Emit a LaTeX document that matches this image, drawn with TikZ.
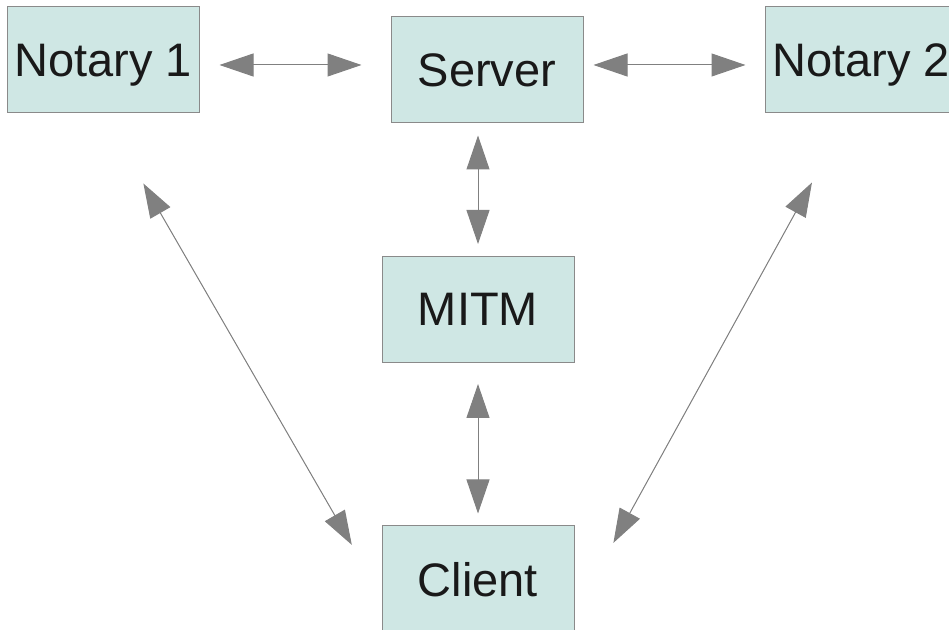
\documentclass[tikz,border=0pt]{standalone}
\usepackage{fontspec}
\setmainfont{Liberation Sans}
\usepackage{tikz}
\usetikzlibrary{arrows.meta}
\definecolor{boxfill}{RGB}{207,231,228}
\definecolor{boxline}{RGB}{138,138,138}
\definecolor{linkgray}{RGB}{128,128,128}
\tikzset{
  box/.style={draw=boxline, line width=0.5pt, fill=boxfill, text=black!90, font=\fontsize{23.5}{28}\selectfont,
              minimum width=96pt, minimum height=53pt, inner sep=0pt, text depth=0pt},
  link/.style={>={Triangle[length=17pt,width=11.5pt]}, <->, draw=linkgray, fill=linkgray, line width=0.5pt}
}

\begin{document}
\begin{tikzpicture}[x=0.5pt, y=-0.5pt]
\useasboundingbox (0,0) rectangle (949,630);
\clip (0,0) rectangle (949,630);
% boxes
\node[box] (n1) at (103,60) {Notary 1};
\node[box] (srv) at (487,70) {Server};
\node[box] (n2) at (861,60) {Notary 2};
\node[box] (mitm) at (478,309.5) {MITM};
\node[box] (cli) at (478,579) {Client};
% links
\draw[link, shorten <=10pt, shorten >=14.5pt] ([yshift=-2.5pt]n1.east) -- ([yshift=2.5pt]srv.west);
\draw[link, shorten <=5pt, shorten >=9.5pt] ([yshift=2.5pt]srv.east) -- ([yshift=-2.5pt]n2.west);
\draw[link, shorten <=6pt, shorten >=6pt] (srv.south -| mitm.north) -- (mitm.north);
\draw[link, shorten <=10.5pt, shorten >=6pt] (mitm.south) -- (cli.north);
\draw[link, shorten <=40.4pt, shorten >=19.7pt] (n1.south) -- ([xshift=-5pt]cli.west);
\draw[link, shorten <=39.4pt, shorten >=20.6pt] ([xshift=-5.5pt]n2.south) -- ([xshift=9.5pt]cli.east);
\end{tikzpicture}
\end{document}
